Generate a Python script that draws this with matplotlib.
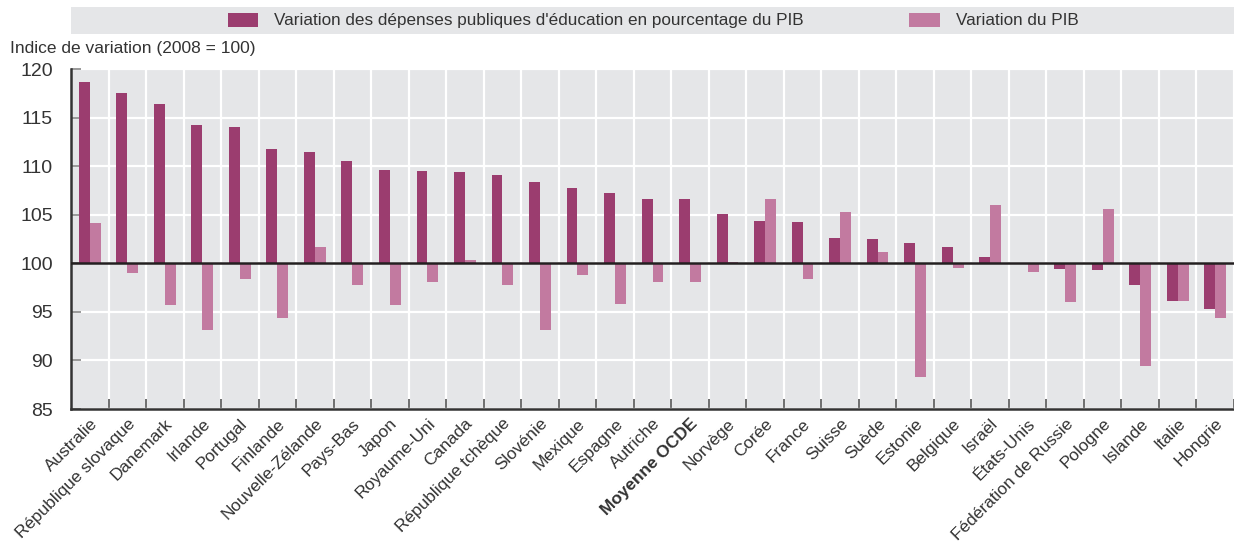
import numpy as np
import matplotlib
matplotlib.use("Agg")
import matplotlib.pyplot as plt
from matplotlib.patches import Rectangle, Patch

plt.rcParams['font.family'] = ['Liberation Sans Narrow', 'Liberation Sans', 'DejaVu Sans']

# data (index, 2008 = 100)
countries = ["Australie", "République slovaque", "Danemark", "Irlande", "Portugal",
             "Finlande", "Nouvelle-Zélande", "Pays-Bas", "Japon", "Royaume-Uni",
             "Canada", "République tchèque", "Slovénie", "Mexique", "Espagne",
             "Autriche", "Moyenne OCDE", "Norvège", "Corée", "France", "Suisse",
             "Suède", "Estonie", "Belgique", "Israël", "États-Unis",
             "Fédération de Russie", "Pologne", "Islande", "Italie", "Hongrie"]
education = [118.65, 117.5, 116.4, 114.2, 114.0,
             111.75, 111.45, 110.5, 109.6, 109.5,
             109.4, 109.1, 108.4, 107.75, 107.2,
             106.6, 106.6, 105.05, 104.35, 104.25, 102.6,
             102.5, 102.05, 101.65, 100.65, 100.0,
             99.4, 99.3, 97.8, 96.1, 95.3]
gdp = [104.15, 99.0, 95.7, 93.1, 98.4,
       94.4, 101.7, 97.8, 95.7, 98.1,
       100.35, 97.8, 93.1, 98.8, 95.8,
       98.1, 98.1, 100.15, 106.6, 98.4, 105.3,
       101.15, 88.3, 99.5, 106.0, 99.1,
       96.0, 105.6, 89.4, 96.1, 94.4]

dark = "#9b3d6f"
light = "#c27aa0"
bg = "#e5e6e8"
txt = "#333333"

fig = plt.figure(figsize=(12.34, 5.45), dpi=100)
ax = fig.add_axes([71 / 1234, 1 - 409 / 545, 1163 / 1234, 340 / 545])
ax.set_facecolor(bg)

x = np.arange(len(countries))
w = 0.29
ax.bar(x, np.array(education) - 100, width=-w, bottom=100, align='edge', color=dark, zorder=3)
ax.bar(x, np.array(gdp) - 100, width=w, bottom=100, align='edge', color=light, zorder=3)
ax.axhline(100, color="#231f20", lw=1.8, zorder=4)

ax.set_xlim(-0.5, len(countries) - 0.5)
ax.set_ylim(85, 120)
ax.set_yticks(np.arange(85, 121, 5))
ax.set_xticks(x + 0.5, minor=False)
ax.set_xticklabels([])
ax.set_xticks(x, minor=True)
ax.set_xticklabels(countries, minor=True, rotation=45, ha='right', va='top',
                   rotation_mode='anchor', fontsize=12.4, color=txt)
for lab in ax.get_xticklabels(minor=True):
    if lab.get_text() == "Moyenne OCDE":
        lab.set_fontweight('bold')
ax.tick_params(axis='x', which='minor', length=0, pad=5)
ax.tick_params(axis='x', which='major', direction='in', length=7, color="#555555", width=1.2)
ax.tick_params(axis='y', direction='in', length=7, color="#888888", width=1.2,
               labelsize=14, labelcolor=txt, pad=13)

ax.grid(True, which='major', color='white', lw=1.6, zorder=0)
ax.set_axisbelow(True)
for s in ['top', 'right']:
    ax.spines[s].set_visible(False)
for s in ['left', 'bottom']:
    ax.spines[s].set_color("#333333")
    ax.spines[s].set_linewidth(1.8)

fig.text(10 / 1234, 1 - 48 / 545, "Indice de variation (2008 = 100)", fontsize=12.5,
         color=txt, va='center', ha='left')

# legend band
fig.patches.append(Rectangle((71 / 1234, 1 - 34 / 545), 1163 / 1234, 27 / 545,
                             transform=fig.transFigure, facecolor=bg, edgecolor='none'))
handles = [Patch(facecolor=dark, label="Variation des dépenses publiques d'éducation en pourcentage du PIB"),
           Patch(facecolor=light, label="Variation du PIB")]
leg = fig.legend(handles=handles, loc='center', bbox_to_anchor=(653 / 1234, 1 - 20.5 / 545),
                 ncol=2, frameon=False, fontsize=12.3, handlelength=1.8, handleheight=0.9,
                 handletextpad=0.9, columnspacing=6.2)
for t in leg.get_texts():
    t.set_color(txt)

fig.savefig("out.png", dpi=100)
